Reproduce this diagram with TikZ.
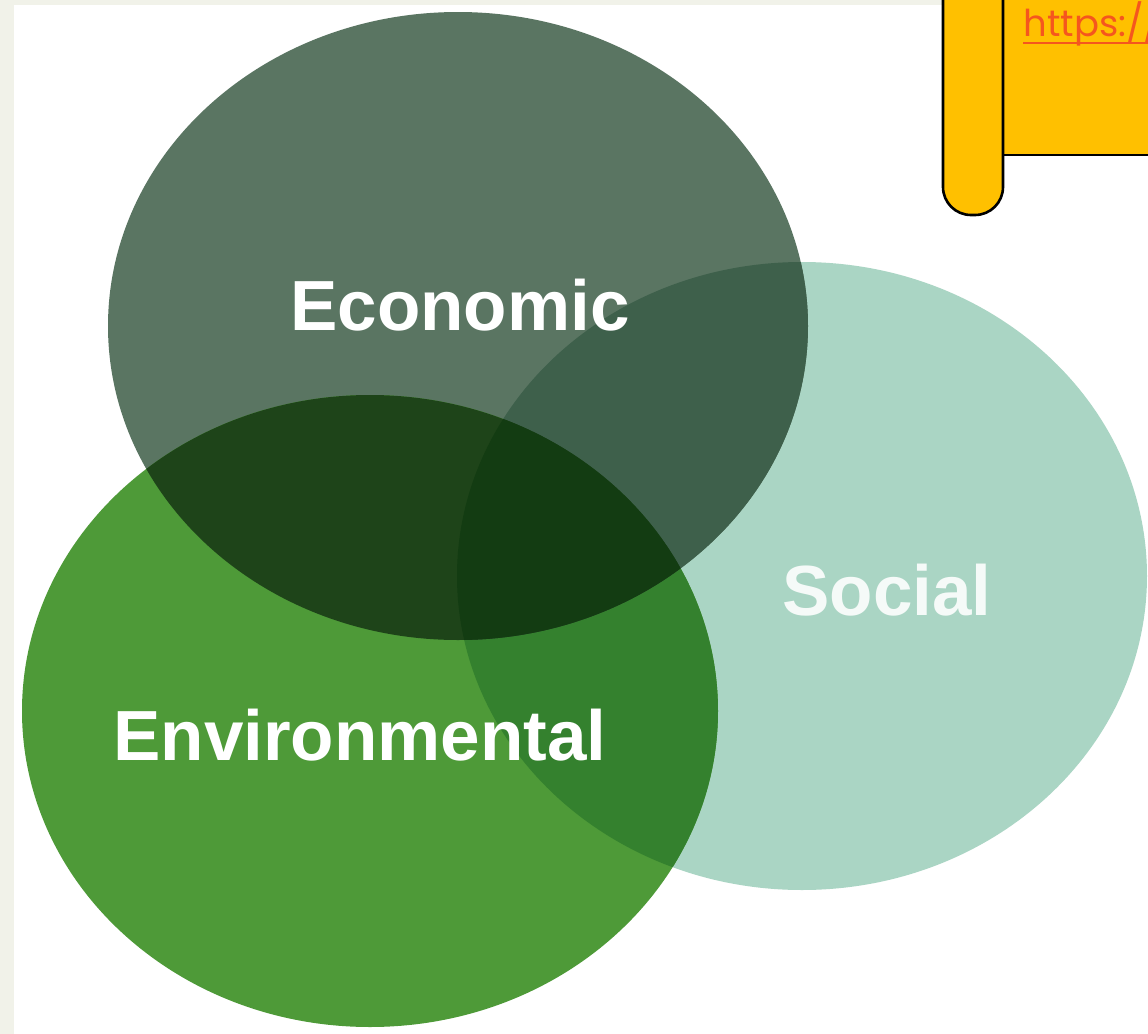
\documentclass[tikz,border=0pt]{standalone}
\usepackage{fontspec}
\setmainfont{Liberation Sans}
\newfontfamily\linkfont{Poppins}
\definecolor{sidebg}{HTML}{F1F2E9}
\definecolor{ecoc}{HTML}{5A7562}
\definecolor{socc}{HTML}{AAD5C4}
\definecolor{envc}{HTML}{4E9A38}
\definecolor{ecosocc}{HTML}{3E604B}
\definecolor{ecoenvc}{HTML}{1E4419}
\definecolor{envsocc}{HTML}{34812E}
\definecolor{allc}{HTML}{133C12}
\definecolor{scrollc}{HTML}{FFC000}
\definecolor{linkc}{HTML}{F5561E}
\newcommand\ecoshape{(458,326) ellipse [x radius=350,y radius=314]}
\newcommand\socshape{(802,576) ellipse [x radius=345,y radius=314]}
\newcommand\envshape{(370,711) ellipse [x radius=348,y radius=316]}
\tikzset{lbl/.style={font=\bfseries\fontsize{35.5}{40}\selectfont,text=white,anchor=base,inner sep=0pt},
  scroll/.style={fill=scrollc,draw=black,line width=1.3pt}}
\begin{document}
\begin{tikzpicture}[x=.5pt,y=-.5pt]
  \useasboundingbox (0,0) rectangle (1148,1034);
  \clip (0,0) rectangle (1148,1034);
  \fill[sidebg] (0,0) rectangle (1148,1034);
  \fill[white] (14,5) rectangle (1148,1034);
  % the three circles, overlaps filled on their own
  \fill[socc] \socshape;
  \fill[ecoc] \ecoshape;
  \fill[envc] \envshape;
  \begin{scope}
    \clip \envshape;
    \fill[envsocc] \socshape;
  \end{scope}
  \begin{scope}
    \clip \ecoshape;
    \fill[ecosocc] \socshape;
    \fill[ecoenvc] \envshape;
    \clip \envshape;
    \fill[allc] \socshape;
  \end{scope}
  \node[lbl] (ecolbl) at (460,330) {Economic};
  \node[lbl,text=white!88!socc] (soclbl) at (887,615) {Social};
  \node[lbl] (envlbl) at (360,760) {Environmental};
  % scroll in the corner
  \draw[scroll] (1003,-20) rectangle (1170,155);
  \draw[scroll,rounded corners=14pt] (943,-20) -- (943,215) -- (1003,215) -- (1003,-20);
  \node[anchor=base west,inner sep=0pt,text=linkc,font=\linkfont\fontsize{18.5}{22}\selectfont] (link) at (1023,36) {https://};
  \draw[linkc,line width=.8pt] ([yshift=-3.5pt]link.base west) -- ++(140,0);
\end{tikzpicture}
\end{document}
